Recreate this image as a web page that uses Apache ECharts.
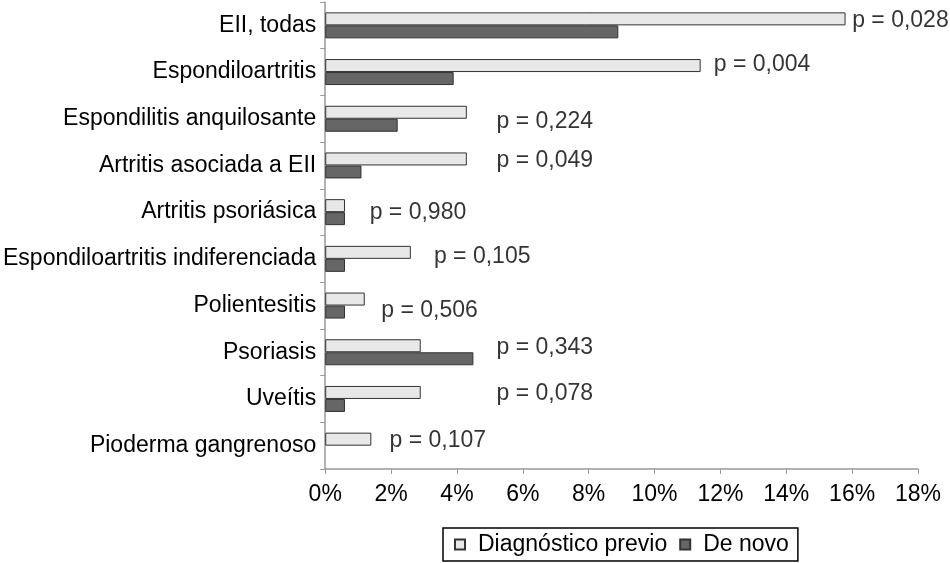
<!DOCTYPE html>
<html>
<head>
<meta charset="utf-8">
<script src="https://cdn.jsdelivr.net/npm/echarts@6/dist/echarts.min.js"></script>
<style>html,body{margin:0;padding:0;background:#fff}#c{width:950px;height:563px}</style>
</head>
<body>
<div id="c"></div>
<script>
var categories = ["EII, todas","Espondiloartritis","Espondilitis anquilosante","Artritis asociada a EII","Artritis psoriásica","Espondiloartritis indiferenciada","Polientesitis","Psoriasis","Uveítis","Pioderma gangrenoso"];
var previo = [15.8, 11.4, 4.3, 4.3, 0.6, 2.6, 1.2, 2.9, 2.9, 1.4];
var deNovo = [8.9, 3.9, 2.2, 1.1, 0.6, 0.6, 0.6, 4.5, 0.6, 0];
var pLabels = ["p = 0,028","p = 0,004","p = 0,224","p = 0,049","p = 0,980","p = 0,105","p = 0,506","p = 0,343","p = 0,078","p = 0,107"];
var pLabelX = [16.0, 11.8, 5.2, 5.2, 1.35, 3.3, 1.7, 5.2, 5.2, 1.95];
var xTicks = [0,2,4,6,8,10,12,14,16,18];
// layout: vertical offsets of the p annotations (px)
var pLabelDy = [-5, -7, 3, -5, 1, -2, 5, -5, -5, -5];

var font = 'Liberation Sans, Arial, Helvetica, sans-serif';
var chart = echarts.init(document.getElementById('c'));
var scatterData = categories.map(function(c, i){
  return {value:[pLabelX[i], c], label:{offset:[0, pLabelDy[i]], formatter: pLabels[i]}};
});
function barItems(arr){
  return arr.map(function(v){
    return v === 0 ? {value:v, itemStyle:{borderWidth:0}} : v;
  });
}
chart.setOption({
  animation:false,
  textStyle:{fontFamily:font},
  grid:{left:325, right:32, top:2, bottom:94, containLabel:false},
  legend:{
    data:['Diagnóstico previo','De novo'],
    top:528, left:443,
    itemWidth:10, itemHeight:10, itemGap:12,
    borderColor:'#000', borderWidth:1.5, borderRadius:0,
    padding:[5,9,5,11],
    textStyle:{fontSize:23, color:'#000', fontFamily:font, padding:[0,0,0,8]},
    icon:'rect'
  },
  xAxis:{
    type:'value', min:0, max:18, interval:2,
    axisLine:{show:true, lineStyle:{color:'#999', width:1.5}},
    axisTick:{show:true, length:5, lineStyle:{color:'#999'}},
    splitLine:{show:false},
    axisLabel:{fontSize:23, color:'#000', margin:14, fontFamily:font,
      formatter:function(v){return v+'%';}}
  },
  yAxis:{
    type:'category', data:categories, inverse:true,
    axisLine:{show:true, lineStyle:{color:'#999', width:1.5}},
    axisTick:{show:true, length:5, lineStyle:{color:'#999'}},
    axisLabel:{fontSize:23, color:'#000', margin:9, fontFamily:font}
  },
  series:[
    {name:'Diagnóstico previo', type:'bar', data:barItems(previo), barWidth:13, barGap:'0%',
      itemStyle:{color:'#e8e8e8', borderColor:'#333', borderWidth:1}},
    {name:'De novo', type:'bar', data:barItems(deNovo), barWidth:13, barGap:'0%',
      itemStyle:{color:'#666666', borderColor:'#333', borderWidth:1}},
    {name:'p', type:'scatter', data:scatterData, symbolSize:0, silent:true,
      label:{show:true, position:'right', distance:0, fontSize:23, color:'#000', fontFamily:font}}
  ]
});
</script>
</body>
</html>
